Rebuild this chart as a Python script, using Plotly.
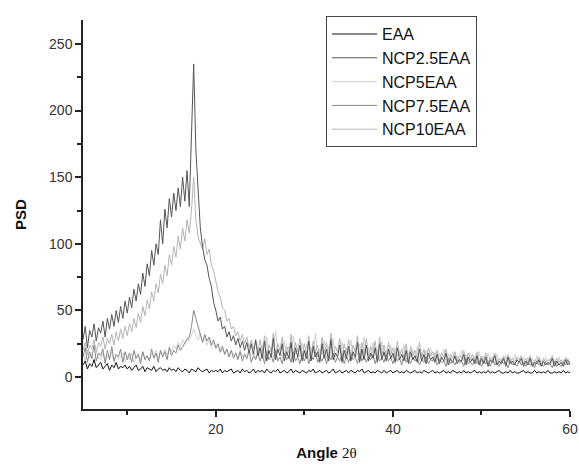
import numpy as np
import plotly.graph_objects as go

# sampling grid: 5..60 deg, 0.25 step (20 samples per 5 deg row + final point)
angle = np.round(np.arange(5, 60.001, 0.25), 2)

eaa = [
    9, 12, 6, 10, 8, 13, 7, 9, 11, 6, 8, 10, 5, 9, 7, 11, 6, 8, 7, 9,
    6, 8, 5, 7, 9, 5, 6, 8, 4, 7, 6, 5, 8, 4, 6, 7, 5, 6, 4, 7,
    5, 6, 4, 7, 5, 4, 6, 5, 3, 6, 5, 4, 7, 5, 4, 5, 6, 3, 5, 4,
    5, 4, 6, 3, 5, 4, 5, 6, 3, 4, 5, 3, 6, 4, 5, 3, 4, 6, 3, 5,
    4, 5, 3, 6, 4, 3, 5, 4, 6, 3, 4, 5, 3, 4, 6, 3, 5, 4, 3, 5,
    4, 3, 5, 4, 6, 3, 4, 5, 3, 4, 5, 3, 4, 6, 3, 4, 5, 3, 4, 5,
    3, 5, 4, 3, 5, 4, 6, 3, 4, 5, 3, 4, 3, 5, 4, 3, 5, 3, 4, 5,
    3, 4, 5, 3, 4, 3, 5, 4, 3, 4, 5, 3, 4, 3, 5, 4, 3, 4, 5, 3,
    4, 3, 4, 5, 3, 4, 3, 5, 4, 3, 4, 3, 5, 3, 4, 3, 4, 5, 3, 4,
    3, 4, 3, 5, 3, 4, 3, 4, 5, 3, 3, 4, 3, 5, 3, 4, 3, 3, 4, 5,
    3, 4, 3, 3, 5, 3, 4, 3, 4, 3, 5, 3, 3, 4, 3, 4, 3, 5, 3, 4,
    3,
]

ncp25 = [
    28, 38, 22, 35, 30, 40, 27, 37, 33, 42, 30, 44, 36, 47, 38, 50, 41, 53, 44, 57,
    48, 60, 52, 66, 57, 70, 62, 78, 68, 85, 76, 95, 84, 100, 92, 118, 100, 126, 112, 134,
    120, 138, 125, 142, 128, 150, 132, 155, 128, 182, 235, 170, 140, 112, 98, 88, 84, 74, 68, 56,
    50, 42, 45, 36, 38, 30, 34, 27, 31, 24, 29, 22, 27, 20, 26, 18, 25, 17, 28, 16,
    22, 14, 27, 12, 20, 15, 29, 13, 21, 16, 25, 12, 19, 14, 26, 11, 22, 15, 24, 12,
    20, 14, 27, 12, 23, 15, 19, 11, 25, 14, 21, 12, 28, 13, 18, 15, 24, 11, 20, 14,
    23, 12, 19, 15, 26, 11, 21, 13, 24, 12, 18, 14, 22, 11, 25, 13, 19, 12, 21, 14,
    18, 11, 22, 13, 17, 12, 20, 10, 19, 13, 16, 11, 21, 12, 17, 10, 18, 13, 15, 11,
    17, 10, 15, 12, 18, 9, 14, 11, 16, 10, 13, 12, 17, 9, 15, 11, 14, 10, 16, 9,
    14, 10, 15, 8, 13, 11, 16, 9, 12, 10, 14, 8, 15, 10, 12, 9, 13, 11, 14, 8,
    12, 9, 14, 8, 11, 10, 13, 8, 12, 9, 11, 10, 14, 8, 12, 9, 11, 8, 13, 9,
    11,
]

ncp5 = [
    18, 12, 20, 14, 17, 11, 19, 15, 13, 18, 12, 16, 14, 19, 11, 17, 13, 15, 18, 12,
    16, 13, 18, 11, 15, 17, 12, 19, 14, 16, 13, 18, 15, 20, 14, 19, 17, 21, 16, 23,
    19, 24, 21, 26, 23, 28, 25, 30, 27, 32, 36, 31, 28, 33, 26, 30, 24, 28, 22, 26,
    21, 24, 18, 22, 17, 21, 15, 20, 16, 19, 14, 21, 15, 18, 13, 20, 16, 19, 14, 22,
    16, 24, 14, 30, 17, 22, 15, 35, 18, 21, 14, 27, 16, 23, 13, 31, 17, 20, 15, 26,
    16, 25, 14, 22, 18, 33, 15, 21, 17, 27, 14, 23, 16, 29, 15, 20, 18, 26, 14, 22,
    17, 28, 15, 21, 16, 25, 14, 30, 17, 22, 15, 26, 16, 21, 14, 27, 15, 20, 17, 24,
    14, 22, 13, 20, 15, 24, 12, 19, 14, 21, 13, 23, 12, 18, 14, 20, 13, 22, 12, 19,
    12, 18, 13, 21, 11, 17, 12, 19, 13, 16, 11, 20, 12, 17, 11, 18, 12, 16, 11, 19,
    11, 16, 10, 18, 12, 15, 10, 17, 11, 14, 10, 16, 11, 15, 10, 17, 11, 14, 10, 15,
    10, 15, 11, 14, 9, 16, 10, 13, 11, 15, 9, 14, 10, 13, 9, 15, 10, 13, 9, 14,
    11,
]

ncp75 = [
    15, 22, 11, 19, 14, 24, 12, 18, 16, 21, 10, 20, 13, 23, 12, 17, 15, 21, 11, 19,
    13, 18, 11, 20, 14, 17, 10, 19, 13, 16, 12, 21, 14, 18, 11, 20, 15, 19, 13, 22,
    16, 20, 18, 24, 20, 23, 25, 28, 30, 38, 50, 44, 36, 30, 26, 32, 27, 30, 24, 28,
    22, 25, 19, 23, 17, 21, 15, 20, 14, 18, 13, 19, 12, 17, 14, 20, 11, 16, 13, 18,
    12, 17, 10, 19, 13, 16, 11, 20, 12, 15, 10, 18, 13, 16, 11, 19, 12, 15, 10, 17,
    12, 18, 10, 16, 13, 19, 11, 15, 12, 17, 10, 16, 13, 18, 11, 15, 12, 17, 10, 16,
    11, 17, 13, 15, 10, 18, 12, 16, 11, 15, 13, 17, 10, 16, 12, 14, 11, 17, 12, 15,
    10, 15, 12, 14, 9, 16, 11, 13, 10, 15, 12, 14, 9, 13, 11, 15, 10, 13, 12, 14,
    9, 13, 11, 12, 8, 14, 10, 12, 9, 13, 11, 12, 8, 14, 10, 11, 9, 13, 10, 12,
    8, 12, 10, 11, 8, 13, 9, 11, 8, 12, 10, 11, 7, 12, 9, 10, 8, 12, 9, 11,
    8, 11, 9, 10, 7, 12, 9, 10, 8, 11, 9, 10, 7, 12, 8, 10, 8, 11, 9, 13,
    9,
]

ncp10 = [
    20, 26, 17, 24, 21, 28, 19, 26, 23, 30, 21, 29, 25, 32, 24, 34, 27, 36, 29, 38,
    31, 40, 34, 44, 37, 48, 41, 53, 46, 58, 51, 64, 57, 70, 63, 77, 70, 84, 76, 92,
    84, 98, 90, 106, 96, 112, 102, 118, 108, 125, 150, 118, 105, 100, 96, 104, 92, 96, 84, 80,
    72, 64, 60, 52, 50, 42, 44, 36, 38, 31, 34, 27, 32, 25, 30, 22, 28, 21, 27, 19,
    28, 18, 31, 16, 24, 19, 33, 15, 25, 20, 30, 16, 23, 18, 32, 15, 26, 19, 29, 16,
    25, 17, 31, 15, 27, 19, 24, 14, 30, 18, 26, 15, 33, 16, 23, 19, 29, 14, 25, 17,
    28, 15, 24, 19, 31, 14, 26, 17, 29, 15, 23, 18, 27, 14, 30, 16, 24, 15, 26, 17,
    22, 14, 27, 16, 21, 15, 25, 13, 23, 16, 20, 14, 26, 15, 21, 13, 22, 16, 19, 14,
    20, 12, 18, 15, 21, 11, 17, 14, 19, 12, 16, 14, 20, 11, 18, 13, 17, 12, 19, 11,
    16, 12, 18, 10, 15, 13, 18, 11, 14, 12, 16, 10, 17, 12, 14, 11, 15, 13, 16, 10,
    14, 11, 16, 10, 13, 12, 15, 10, 14, 11, 13, 12, 16, 10, 14, 11, 13, 10, 15, 11,
    12,
]

names = ["EAA", "NCP2.5EAA", "NCP5EAA", "NCP7.5EAA", "NCP10EAA"]
series = [eaa, ncp25, ncp5, ncp75, ncp10]
colors = ["#111111", "#555555", "#d2d2d2", "#8a8a8a", "#b4b4b4"]

fig = go.Figure()
# draw light traces first so the darker ones sit on top; legend keeps the original order
for i in [2, 4, 3, 1, 0]:
    y = series[i]
    assert len(y) == len(angle), (names[i], len(y))
    fig.add_trace(go.Scatter(x=angle, y=y, mode="lines", name=names[i], legendrank=i + 1,
                             line=dict(color=colors[i], width=1)))

fig.update_layout(
    width=579, height=468,
    margin=dict(l=83, r=9, t=20, b=59, autoexpand=False),
    paper_bgcolor="white", plot_bgcolor="white",
    font=dict(family="Liberation Sans, Arial, sans-serif", color="#222"),
    legend=dict(x=0.499, y=1.01, xanchor="left", yanchor="top", bgcolor="white",
                bordercolor="#444", borderwidth=1, font=dict(size=16, color="#111"),
                tracegroupgap=0, itemwidth=45),
)
fig.update_xaxes(range=[5, 60], tickmode="array", tickvals=[20, 40, 60], ticks="outside",
                 ticklen=6, tickwidth=1.5, tickcolor="#222", showline=True, linecolor="#222",
                 linewidth=1.5, showgrid=False, zeroline=False, automargin=False,
                 tickfont=dict(size=14, color="#333"),
                 minor=dict(tickvals=[10, 30, 50], ticks="outside", ticklen=4, tickcolor="#222"),
                 title=dict(text="<b>Angle</b> <span style='font-family:Liberation Serif'>2θ</span>",
                            font=dict(size=15, color="#111"), standoff=12))
fig.update_yaxes(range=[-24, 268], tickmode="array", tickvals=[0, 50, 100, 150, 200, 250],
                 ticks="outside", ticklen=6, tickwidth=1.5, tickcolor="#222", showline=True,
                 linecolor="#222", linewidth=1.5, showgrid=False, zeroline=False, automargin=False,
                 tickfont=dict(size=14, color="#333"),
                 minor=dict(tickvals=[-25, 25, 75, 125, 175, 225], ticks="outside", ticklen=4,
                            tickcolor="#222"),
                 title=dict(text="<b>PSD</b>", font=dict(size=15, color="#111"), standoff=19))

# drop the default 8px page margin so the figure fills the window exactly
fig.write_html("out.html", config={"displayModeBar": False},
               post_script="document.body.style.margin='0';document.body.style.overflow='hidden';")
